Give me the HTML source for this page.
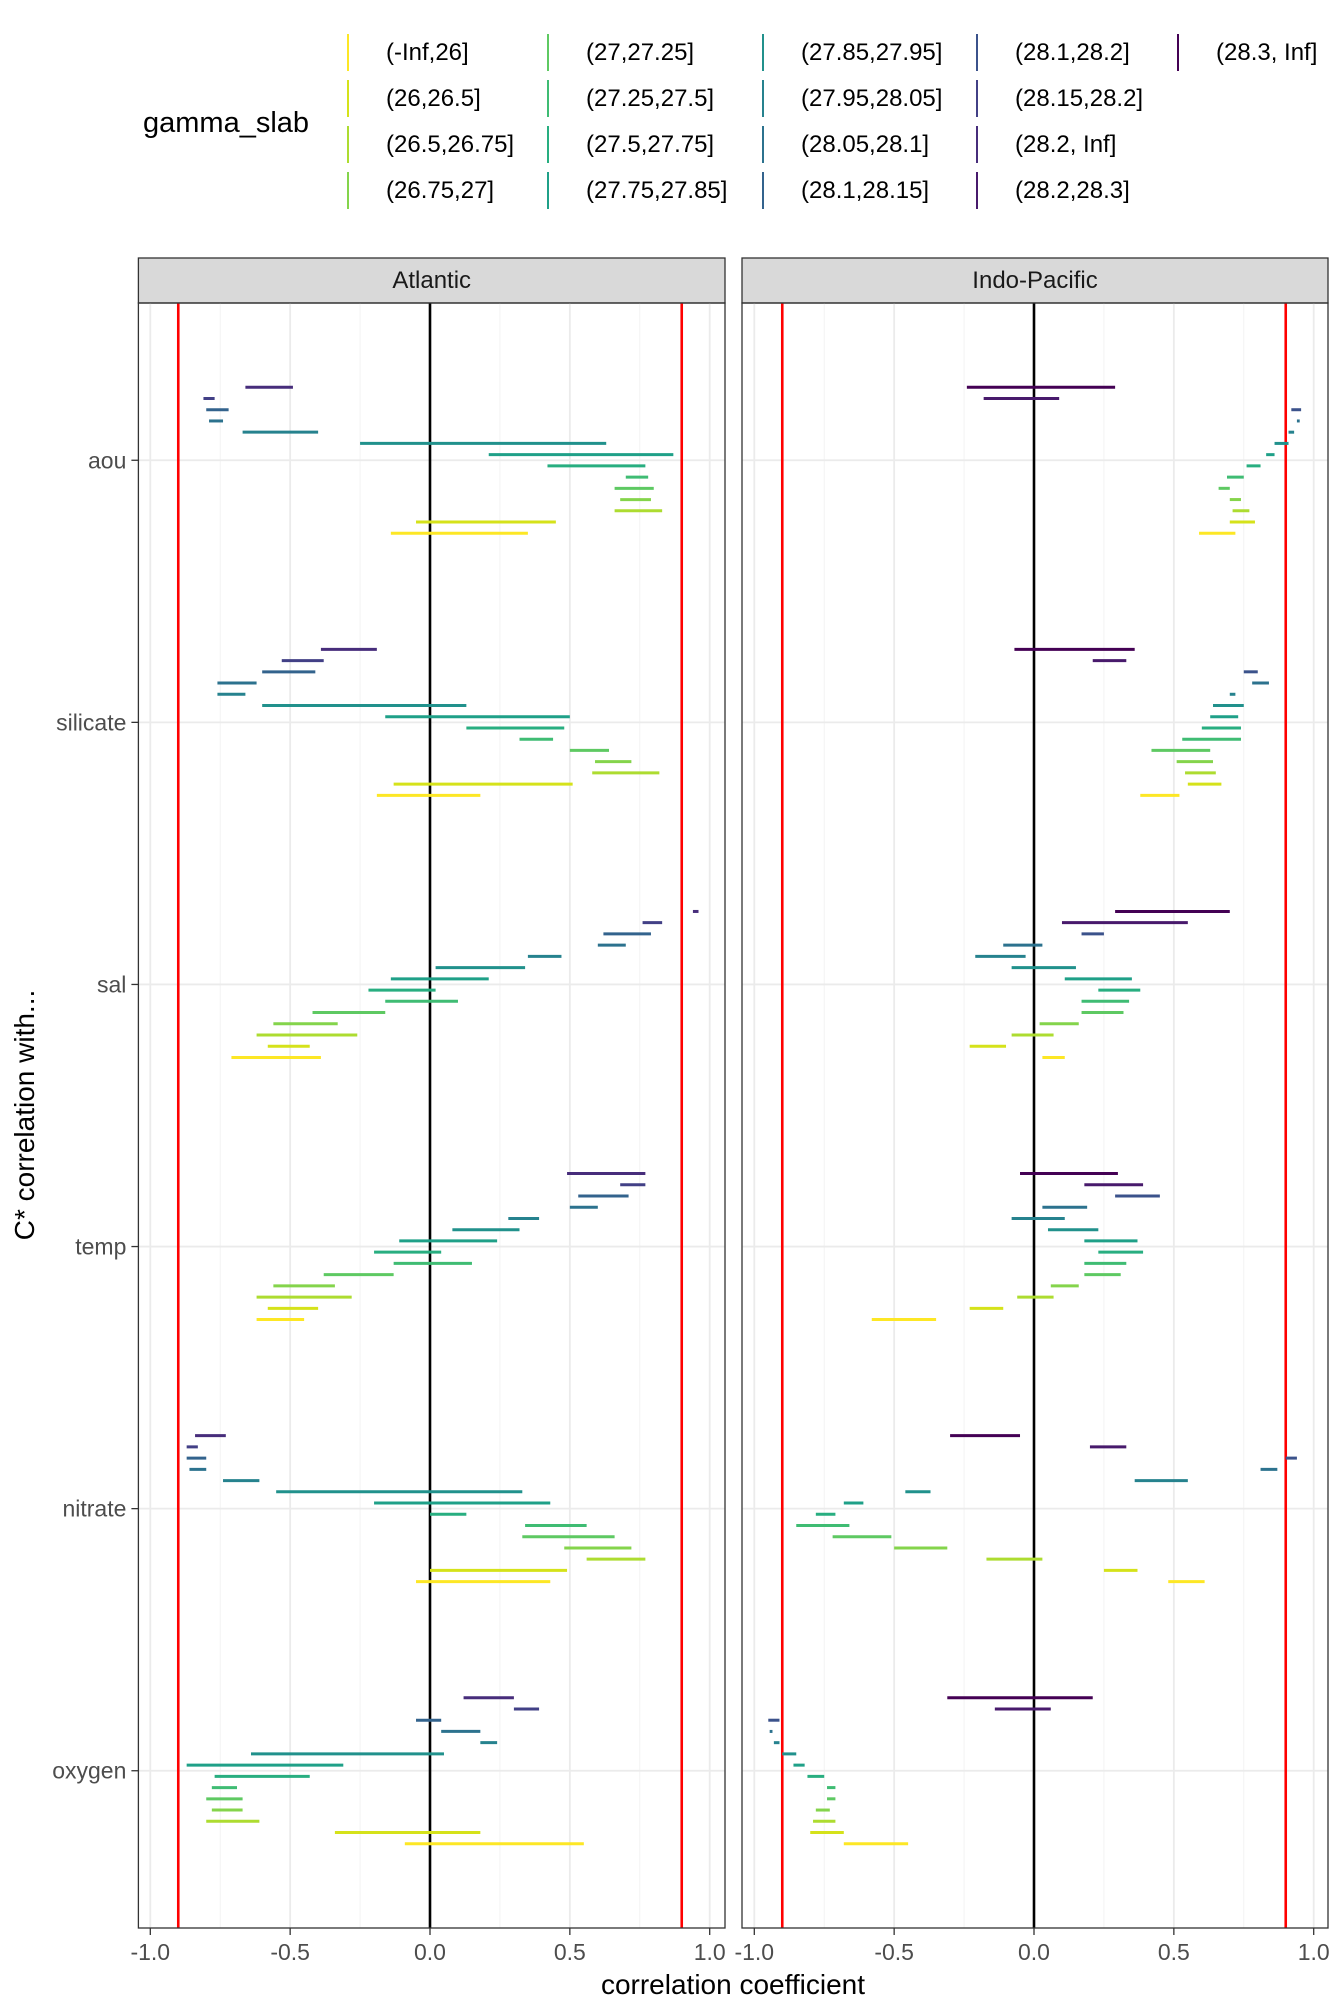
<!DOCTYPE html>
<html><head><meta charset="utf-8"><style>
html,body{margin:0;padding:0;background:#fff;}
svg{display:block;font-family:"Liberation Sans",Arial,sans-serif;}
</style></head><body>
<svg id="chart" width="1344" height="2016" viewBox="0 0 1344 2016" xmlns="http://www.w3.org/2000/svg">
<g id="legend">
<text x="143" y="132" font-size="29" fill="#000">gamma_slab</text>
</g>
<g id="panels"></g>
<text x="733" y="1994" font-size="28" text-anchor="middle" fill="#000">correlation coefficient</text>
<text transform="translate(34,1115) rotate(-90)" font-size="28" text-anchor="middle" fill="#000">C* correlation with...</text>
</svg>
<script>
const NS="http://www.w3.org/2000/svg";
const levels=["(-Inf,26]","(26,26.5]","(26.5,26.75]","(26.75,27]","(27,27.25]","(27.25,27.5]","(27.5,27.75]","(27.75,27.85]","(27.85,27.95]","(27.95,28.05]","(28.05,28.1]","(28.1,28.15]","(28.1,28.2]","(28.15,28.2]","(28.2, Inf]","(28.2,28.3]","(28.3, Inf]"];
const levelColors=["#fde725","#d5e21a","#addc30","#84d44b","#5ec962","#3fbc73","#28ae80","#1fa088","#21918c","#26828e","#2c728e","#33638d","#3b528b","#424086","#472d7b","#481a6c","#440154"];
const categories=["aou","silicate","sal","temp","nitrate","oxygen"];
const panels=["Atlantic","Indo-Pacific"];
const xTicks=[-1,-0.5,0,0.5,1];
const xTickLabels=["-1.0","-0.5","0.0","0.5","1.0"];
const refLines=[-0.9,0.9];
const atlLevels=[14,13,11,10,9,8,7,6,5,4,3,2,1,0];
const indoLevels=[16,15,12,10,9,8,7,6,5,4,3,2,1,0];
const atlAou=[[-0.66,-0.49],[-0.81,-0.77],[-0.80,-0.72],[-0.79,-0.74],[-0.67,-0.40],[-0.25,0.63],[0.21,0.87],[0.42,0.77],[0.70,0.78],[0.66,0.80],[0.68,0.79],[0.66,0.83],[-0.05,0.45],[-0.14,0.35]];
const atlSilicate=[[-0.39,-0.19],[-0.53,-0.38],[-0.60,-0.41],[-0.76,-0.62],[-0.76,-0.66],[-0.60,0.13],[-0.16,0.50],[0.13,0.48],[0.32,0.44],[0.50,0.64],[0.59,0.72],[0.58,0.82],[-0.13,0.51],[-0.19,0.18]];
const atlSal=[[0.94,0.96],[0.76,0.83],[0.62,0.79],[0.60,0.70],[0.35,0.47],[0.02,0.34],[-0.14,0.21],[-0.22,0.02],[-0.16,0.10],[-0.42,-0.16],[-0.56,-0.33],[-0.62,-0.26],[-0.58,-0.43],[-0.71,-0.39]];
const atlTemp=[[0.49,0.77],[0.68,0.77],[0.53,0.71],[0.50,0.60],[0.28,0.39],[0.08,0.32],[-0.11,0.24],[-0.20,0.04],[-0.13,0.15],[-0.38,-0.13],[-0.56,-0.34],[-0.62,-0.28],[-0.58,-0.40],[-0.62,-0.45]];
const atlNitrate=[[-0.84,-0.73],[-0.87,-0.83],[-0.87,-0.80],[-0.86,-0.80],[-0.74,-0.61],[-0.55,0.33],[-0.20,0.43],[0.00,0.13],[0.34,0.56],[0.33,0.66],[0.48,0.72],[0.56,0.77],[0.00,0.49],[-0.05,0.43]];
const atlOxygen=[[0.12,0.30],[0.30,0.39],[-0.05,0.04],[0.04,0.18],[0.18,0.24],[-0.64,0.05],[-0.87,-0.31],[-0.77,-0.43],[-0.78,-0.69],[-0.80,-0.67],[-0.78,-0.67],[-0.80,-0.61],[-0.34,0.18],[-0.09,0.55]];
const indoAou=[[-0.24,0.29],[-0.18,0.09],[0.92,0.955],[0.94,0.95],[0.91,0.93],[0.86,0.91],[0.83,0.86],[0.76,0.81],[0.69,0.75],[0.66,0.70],[0.70,0.74],[0.71,0.77],[0.70,0.79],[0.59,0.72]];
const indoSilicate=[[-0.07,0.36],[0.21,0.33],[0.75,0.80],[0.78,0.84],[0.70,0.72],[0.64,0.75],[0.63,0.73],[0.60,0.74],[0.53,0.74],[0.42,0.63],[0.51,0.64],[0.54,0.65],[0.55,0.67],[0.38,0.52]];
const indoSal=[[0.29,0.70],[0.10,0.55],[0.17,0.25],[-0.11,0.03],[-0.21,-0.03],[-0.08,0.15],[0.11,0.35],[0.23,0.38],[0.17,0.34],[0.17,0.32],[0.02,0.16],[-0.08,0.07],[-0.23,-0.10],[0.03,0.11]];
const indoTemp=[[-0.05,0.30],[0.18,0.39],[0.29,0.45],[0.03,0.19],[-0.08,0.11],[0.05,0.23],[0.18,0.37],[0.23,0.39],[0.18,0.33],[0.18,0.31],[0.06,0.16],[-0.06,0.07],[-0.23,-0.11],[-0.58,-0.35]];
const indoNitrate=[[-0.30,-0.05],[0.20,0.33],[0.90,0.94],[0.81,0.87],[0.36,0.55],[-0.46,-0.37],[-0.68,-0.61],[-0.78,-0.71],[-0.85,-0.66],[-0.72,-0.51],[-0.50,-0.31],[-0.17,0.03],[0.25,0.37],[0.48,0.61]];
const indoOxygen=[[-0.31,0.21],[-0.14,0.06],[-0.95,-0.91],[-0.945,-0.935],[-0.93,-0.91],[-0.90,-0.85],[-0.86,-0.82],[-0.81,-0.75],[-0.74,-0.71],[-0.74,-0.71],[-0.78,-0.73],[-0.79,-0.71],[-0.80,-0.68],[-0.68,-0.45]];
const atlData=[atlAou,atlSilicate,atlSal,atlTemp,atlNitrate,atlOxygen];
const indoData=[indoAou,indoSilicate,indoSal,indoTemp,indoNitrate,indoOxygen];

const svg=document.getElementById('chart');
const gp=document.getElementById('panels');
const leg=document.getElementById('legend');
function mk(tag,attrs,parent){const e=document.createElementNS(NS,tag);for(const k in attrs)e.setAttribute(k,attrs[k]);(parent||svg).appendChild(e);return e;}

const colKeyX=[348,548,763,977,1178];
const rowY=[52,98,144,190];
levels.forEach((lab,i)=>{
  const c=Math.floor(i/4), r=i%4;
  const k=mk('line',{x1:colKeyX[c],x2:colKeyX[c],y1:rowY[r]-18,y2:rowY[r]+19,stroke:levelColors[i],'stroke-width':2},leg);
  
  
  const t=mk('text',{x:colKeyX[c]+38,y:rowY[r]+8,'font-size':24,fill:'#000'},leg);
  t.textContent=lab;
  
  
});

const PT=303, PB=1928, stripTop=258;
const panelX=[[138.4,725],[742,1328]];
const zeroX=[430,1034], unit=279.7;
const catStep=(PB-PT)/6.2, slotStep=11.23;
function yCat(i){return PT+(0.6+i)*catStep;}

panels.forEach((pn,pi)=>{
  const [L,R]=panelX[pi];
  const g=mk('g',{},gp);
  
  
  const xs=v=>zeroX[pi]+v*unit;
  const s=mk('rect',{x:L,y:stripTop,width:R-L,height:PT-stripTop,fill:'#d9d9d9',stroke:'#333','stroke-width':1.3},g);
  
  
  const st=mk('text',{x:(L+R)/2,y:stripTop+30,'font-size':24,'text-anchor':'middle',fill:'#1a1a1a'},g);
  st.textContent=pn;
  
  
  [-0.75,-0.25,0.25,0.75].forEach(v=>{const l=mk('line',{x1:xs(v),x2:xs(v),y1:PT,y2:PB,stroke:'#f2f2f2','stroke-width':1},g);
    
    });
  xTicks.forEach(v=>{const l=mk('line',{x1:xs(v),x2:xs(v),y1:PT,y2:PB,stroke:'#ebebeb','stroke-width':1.8},g);
    
    });
  categories.forEach((c,ci)=>{const l=mk('line',{x1:L,x2:R,y1:yCat(ci),y2:yCat(ci),stroke:'#ebebeb','stroke-width':1.8},g);
    
    });
  refLines.forEach(v=>{const l=mk('line',{x1:xs(v),x2:xs(v),y1:PT,y2:PB,stroke:'#ff0000','stroke-width':2.6},g);
    
    });
  const z=mk('line',{x1:xs(0),x2:xs(0),y1:PT,y2:PB,stroke:'#000','stroke-width':2.6},g);
  
  
  const data=pi===0?atlData:indoData;
  const lv=pi===0?atlLevels:indoLevels;
  data.forEach((cat,ci)=>{
    cat.forEach((d,si)=>{
      const y=yCat(ci)+(si-6.5)*slotStep;
      const b=mk('line',{x1:xs(d[0]),x2:xs(d[1]),y1:y,y2:y,stroke:levelColors[lv[si]],'stroke-width':3},g);
      
      
    });
  });
  const br=mk('rect',{x:L,y:PT,width:R-L,height:PB-PT,fill:'none',stroke:'#333','stroke-width':1.3},g);
  
  
  xTicks.forEach((v,ti)=>{
    const tk=mk('line',{x1:xs(v),x2:xs(v),y1:PB,y2:PB+7,stroke:'#333','stroke-width':1.3},g);
    
    
    const tl=mk('text',{x:xs(v),y:PB+32,'font-size':23,'text-anchor':'middle',fill:'#4d4d4d'},g);
    tl.textContent=xTickLabels[ti];
    
    
  });
  if(pi===0){
    categories.forEach((c,ci)=>{
      const tk=mk('line',{x1:L-7,x2:L,y1:yCat(ci),y2:yCat(ci),stroke:'#333','stroke-width':1.3},g);
      
      
      const tl=mk('text',{x:L-12,y:yCat(ci)+8,'font-size':23,'text-anchor':'end',fill:'#4d4d4d'},g);
      tl.textContent=c;
      
      
    });
  }
});
</script>
</body></html>
